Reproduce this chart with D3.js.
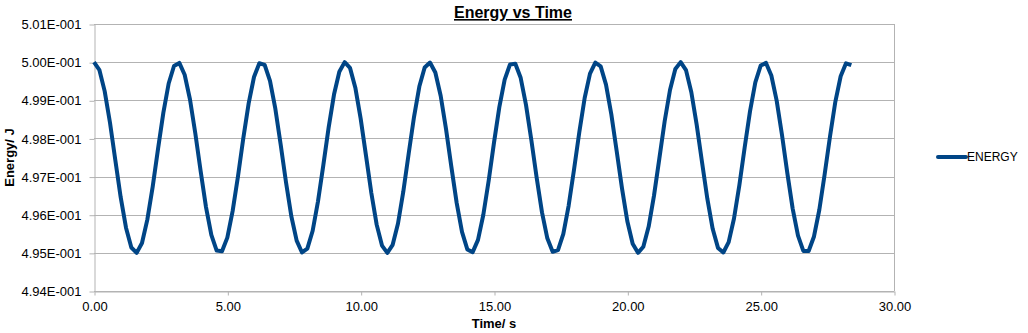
<!DOCTYPE html>
<html>
<head>
<meta charset="utf-8">
<script src="https://cdn.jsdelivr.net/npm/d3@7"></script>
<style>
  html, body { margin: 0; padding: 0; background: #fff; }
  svg { display: block; font-family: "Liberation Sans", Arial, sans-serif; }
</style>
</head>
<body>
<svg id="chart" width="1028" height="333"></svg>
<script>
// ---- data ----
const timeStep = 0.2; // s between samples
const energy = [
  0.50000, 0.49980, 0.49924, 0.49841, 0.49743, 0.49646, 0.49566, 0.49514, 0.49500, 0.49526,
  0.49587, 0.49673, 0.49772, 0.49867, 0.49944, 0.49990, 0.49998, 0.49967, 0.49902, 0.49813,
  0.49714, 0.49620, 0.49547, 0.49506, 0.49504, 0.49540, 0.49610, 0.49701, 0.49801, 0.49892,
  0.49961, 0.49997, 0.49993, 0.49951, 0.49878, 0.49784, 0.49685, 0.49596, 0.49532, 0.49501,
  0.49511, 0.49558, 0.49635, 0.49730, 0.49829, 0.49915, 0.49975, 0.50000, 0.49985, 0.49933,
  0.49852, 0.49755, 0.49657, 0.49574, 0.49519, 0.49500, 0.49521, 0.49577, 0.49661, 0.49760,
  0.49856, 0.49936, 0.49986, 0.49999, 0.49973, 0.49912, 0.49825, 0.49726, 0.49631, 0.49555,
  0.49509, 0.49502, 0.49534, 0.49600, 0.49689, 0.49789, 0.49882, 0.49954, 0.49994, 0.49996,
  0.49959, 0.49888, 0.49796, 0.49697, 0.49606, 0.49538, 0.49503, 0.49507, 0.49550, 0.49624,
  0.49718, 0.49817, 0.49906, 0.49970, 0.49999, 0.49989, 0.49941, 0.49863, 0.49767, 0.49669,
  0.49583, 0.49524, 0.49500, 0.49516, 0.49569, 0.49650, 0.49747, 0.49845, 0.49927, 0.49982,
  0.50000, 0.49979, 0.49921, 0.49836, 0.49738, 0.49642, 0.49563, 0.49513, 0.49501, 0.49528,
  0.49590, 0.49677, 0.49776, 0.49871, 0.49947, 0.49991, 0.49998, 0.49965, 0.49899, 0.49809,
  0.49709, 0.49616, 0.49545, 0.49505, 0.49505, 0.49543, 0.49613, 0.49706, 0.49805, 0.49896,
  0.49963, 0.49997, 0.49992
];
const xTicks = [0, 5, 10, 15, 20, 25, 30];
const xTickLabels = ["0.00", "5.00", "10.00", "15.00", "20.00", "25.00", "30.00"];
const yTicks = [0.494, 0.495, 0.496, 0.497, 0.498, 0.499, 0.500, 0.501];
const yTickLabels = ["4.94E-001", "4.95E-001", "4.96E-001", "4.97E-001", "4.98E-001", "4.99E-001", "5.00E-001", "5.01E-001"];
const seriesName = "ENERGY";
const chartTitle = "Energy vs Time";
const xTitle = "Time/ s";
const yTitle = "Energy/ J";

// ---- layout ----
const plot = { left: 94, right: 894, top: 24, bottom: 291 };
const lineColor = "#004586";
const gridColor = "#b3b3b3";

const svg = d3.select("#chart");
const x = d3.scaleLinear().domain([0, 30]).range([plot.left, plot.right]);
const y = d3.scaleLinear().domain([0.494, 0.501]).range([plot.bottom, plot.top]);

// gridlines
svg.append("g").selectAll("line").data(yTicks).join("line")
  .attr("x1", plot.left).attr("x2", plot.right)
  .attr("y1", d => Math.round(y(d)) + 0.5).attr("y2", d => Math.round(y(d)) + 0.5)
  .attr("stroke", gridColor).attr("stroke-width", 1);

// right border of plot area
svg.append("line")
  .attr("x1", plot.right + 0.5).attr("x2", plot.right + 0.5)
  .attr("y1", plot.top).attr("y2", plot.bottom)
  .attr("stroke", gridColor);

// y axis
const yAxis = d3.axisLeft(y).tickValues(yTicks)
  .tickFormat((d, i) => yTickLabels[i]).tickSizeInner(5).tickSizeOuter(0).tickPadding(8);
const gy = svg.append("g").attr("transform", `translate(${plot.left + 0.5},0.5)`).call(yAxis);
gy.select(".domain").attr("stroke", gridColor);
gy.selectAll(".tick line").attr("stroke", gridColor);
gy.selectAll(".tick text").attr("fill", "#000").attr("font-size", 13)
  .attr("font-family", "Liberation Sans, Arial, sans-serif");

// x axis
const xAxis = d3.axisBottom(x).tickValues(xTicks)
  .tickFormat((d, i) => xTickLabels[i]).tickSizeInner(4).tickSizeOuter(0).tickPadding(6);
const gx = svg.append("g").attr("transform", `translate(0.5,${plot.bottom + 0.5})`).call(xAxis);
gx.select(".domain").attr("stroke", gridColor);
gx.selectAll(".tick line").attr("stroke", gridColor);
gx.selectAll(".tick text").attr("fill", "#000").attr("font-size", 13)
  .attr("font-family", "Liberation Sans, Arial, sans-serif");

// series line
const line = d3.line()
  .x((d, i) => x(i * timeStep))
  .y(d => y(d));
svg.append("path")
  .datum(energy)
  .attr("d", line)
  .attr("fill", "none")
  .attr("stroke", lineColor)
  .attr("stroke-width", 4)
  .attr("stroke-linejoin", "round")
  .attr("stroke-linecap", "butt");

// title
svg.append("text")
  .attr("x", 513).attr("y", 18)
  .attr("text-anchor", "middle")
  .attr("font-size", 16).attr("font-weight", "bold")
  .attr("text-decoration", "underline")
  .text(chartTitle);

// axis titles
svg.append("text")
  .attr("x", (plot.left + plot.right) / 2).attr("y", 328)
  .attr("text-anchor", "middle")
  .attr("font-size", 13).attr("font-weight", "bold")
  .text(xTitle);

svg.append("text")
  .attr("transform", `translate(14,${(plot.top + plot.bottom) / 2}) rotate(-90)`)
  .attr("text-anchor", "middle")
  .attr("font-size", 13).attr("font-weight", "bold")
  .text(yTitle);

// legend
const lg = svg.append("g").attr("transform", "translate(938,157)");
lg.append("line").attr("x1", 0).attr("x2", 28).attr("y1", 0).attr("y2", 0)
  .attr("stroke", lineColor).attr("stroke-width", 4).attr("stroke-linecap", "round");
lg.append("text").attr("x", 29).attr("y", 0).attr("dy", "0.35em")
  .attr("font-size", 12).text(seriesName);
</script>
</body>
</html>
